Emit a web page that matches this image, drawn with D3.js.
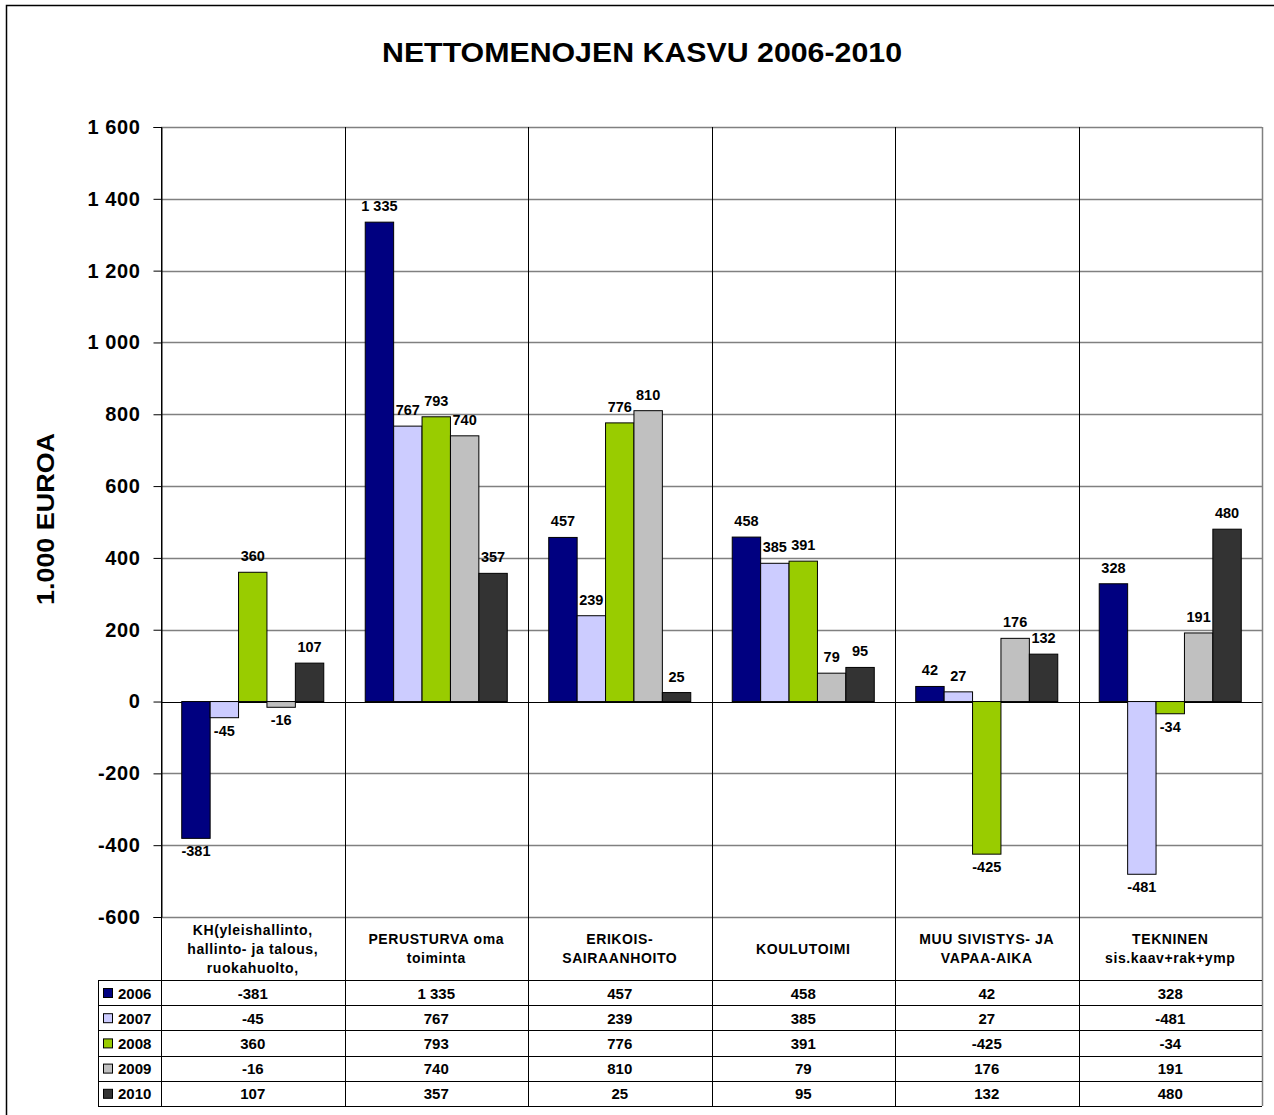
<!DOCTYPE html>
<html>
<head>
<meta charset="utf-8">
<script src="https://cdn.jsdelivr.net/npm/d3@7"></script>
<style>
  body { margin: 0; background: #fff; }
  text { font-family: "Liberation Sans", Arial, sans-serif; font-weight: bold; fill: #000; }
</style>
</head>
<body>
<div id="chart"></div>
<script>
(function(){
  'use strict';

  var categories = [
    ['KH(yleishallinto,', 'hallinto- ja talous,', 'ruokahuolto,'],
    ['PERUSTURVA oma', 'toiminta'],
    ['ERIKOIS-', 'SAIRAANHOITO'],
    ['KOULUTOIMI'],
    ['MUU SIVISTYS- JA', 'VAPAA-AIKA'],
    ['TEKNINEN', 'sis.kaav+rak+ymp']
  ];
  var years = ['2006', '2007', '2008', '2009', '2010'];
  var v2006 = [-381, 1335, 457, 458, 42, 328];
  var v2007 = [-45, 767, 239, 385, 27, -481];
  var v2008 = [360, 793, 776, 391, -425, -34];
  var v2009 = [-16, 740, 810, 79, 176, 191];
  var v2010 = [107, 357, 25, 95, 132, 480];
  var yTicks = [-600, -400, -200, 0, 200, 400, 600, 800, 1000, 1200, 1400, 1600];

  var seriesValues = [v2006, v2007, v2008, v2009, v2010];
  var colors = ['#000080', '#ccccff', '#99cc00', '#c0c0c0', '#333333'];

  var W = 1274, H = 1115;
  var plot = {left: 161, right: 1262, top: 127, bottom: 917};
  var catRowBottom = 980, rowH = 25.2, legendLeft = 98;

  var fmt = d3.formatLocale({decimal: ',', thousands: ' ', grouping: [3], currency: ['', ''], minus: '-'}).format(',d');

  var svg = d3.select('#chart').append('svg')
    .attr('width', W).attr('height', H);

  // outer frame (runs past the right and bottom edges)
  svg.append('rect')
    .attr('x', 6.5).attr('y', 5.5).attr('width', 1300).attr('height', 1200)
    .attr('fill', 'none').attr('stroke', '#000').attr('stroke-width', 1.5);

  var x = d3.scaleBand().domain(d3.range(categories.length))
    .range([plot.left, plot.right]).padding(0);
  var xs = d3.scaleBand().domain(d3.range(years.length))
    .range([0, x.bandwidth()]).paddingInner(0).paddingOuter(0.73);
  var y = d3.scaleLinear().domain([-600, 1600]).range([plot.bottom, plot.top]);

  // title
  svg.append('text')
    .attr('x', 642).attr('y', 62)
    .attr('text-anchor', 'middle')
    .attr('textLength', 520)
    .attr('lengthAdjust', 'spacingAndGlyphs')
    .style('font-size', '27px')
    .text('NETTOMENOJEN KASVU 2006-2010');

  // horizontal gridlines
  svg.append('g').selectAll('line')
    .data(yTicks).enter()
    .append('line')
    .attr('x1', plot.left).attr('x2', plot.right)
    .attr('y1', function(d){ return Math.round(y(d)) + 0.5; })
    .attr('y2', function(d){ return Math.round(y(d)) + 0.5; })
    .attr('stroke', function(d){ return d === 0 ? '#000' : '#808080'; })
    .attr('stroke-width', function(d){ return d === 0 ? 1 : 1.5; });

  // vertical category lines (plot + table)
  svg.append('g').selectAll('line')
    .data(d3.range(categories.length + 1)).enter()
    .append('line')
    .attr('x1', function(i){ return Math.round(plot.left + i * x.step()) + 0.5; })
    .attr('x2', function(i){ return Math.round(plot.left + i * x.step()) + 0.5; })
    .attr('y1', plot.top)
    .attr('y2', catRowBottom + rowH * years.length)
    .attr('stroke', function(i){ return i === categories.length ? '#808080' : '#000'; })
    .attr('stroke-width', function(i){ return i === categories.length ? 1.5 : 1; });

  // y axis
  var yAxis = d3.axisLeft(y).tickValues(yTicks).tickSize(8).tickPadding(13)
    .tickFormat(fmt);
  var axisG = svg.append('g')
    .attr('transform', 'translate(' + (plot.left + 0.5) + ',0)')
    .call(yAxis);
  axisG.select('.domain').attr('stroke', '#000');
  axisG.selectAll('.tick line').attr('stroke', '#000');
  axisG.selectAll('.tick text')
    .style('font-size', '20px')
    .style('letter-spacing', '0.6px')
    .style('font-family', '"Liberation Sans", Arial, sans-serif')
    .style('font-weight', 'bold')
    .attr('fill', '#000');

  svg.append('text')
    .attr('transform', 'translate(54,519) rotate(-90)')
    .attr('text-anchor', 'middle')
    .attr('textLength', 172)
    .attr('lengthAdjust', 'spacingAndGlyphs')
    .style('font-size', '24px')
    .text('1.000 EUROA');

  // bars
  years.forEach(function(yr, s) {
    var g = svg.append('g');
    g.selectAll('rect')
      .data(seriesValues[s]).enter()
      .append('rect')
      .attr('x', function(d, i){ return x(i) + xs(s); })
      .attr('width', xs.bandwidth())
      .attr('y', function(d){ return y(Math.max(0, d)); })
      .attr('height', function(d){ return Math.abs(y(d) - y(0)); })
      .attr('fill', colors[s])
      .attr('stroke', '#000')
      .attr('stroke-width', 1);

    g.selectAll('text')
      .data(seriesValues[s]).enter()
      .append('text')
      .attr('x', function(d, i){ return x(i) + xs(s) + xs.bandwidth() / 2; })
      .attr('y', function(d){ return d >= 0 ? y(d) - 11 : y(d) + 18; })
      .attr('text-anchor', 'middle')
      .style('font-size', '14.5px')
      .text(fmt);
  });

  // data table
  var tbl = svg.append('g');
  var tableBottom = catRowBottom + rowH * years.length;

  tbl.selectAll('g.cat')
    .data(categories).enter()
    .append('g')
    .attr('class', 'cat')
    .each(function(lines, i) {
      var cy = (plot.bottom + catRowBottom) / 2;
      var lh = 19;
      d3.select(this).selectAll('text')
        .data(lines).enter()
        .append('text')
        .attr('x', x(i) + x.bandwidth() / 2)
        .attr('y', function(d, k){ return cy + (k - (lines.length - 1) / 2) * lh + 5; })
        .attr('text-anchor', 'middle')
        .style('font-size', '14px')
        .style('letter-spacing', '0.6px')
        .text(function(d){ return d; });
    });

  // row lines
  tbl.selectAll('line.row')
    .data(d3.range(years.length + 1)).enter()
    .append('line')
    .attr('x1', legendLeft).attr('x2', plot.right)
    .attr('y1', function(r){ return Math.round(catRowBottom + r * rowH) + 0.5; })
    .attr('y2', function(r){ return Math.round(catRowBottom + r * rowH) + 0.5; })
    .attr('stroke', '#000').attr('stroke-width', 1);

  tbl.append('line')
    .attr('x1', legendLeft + 0.5).attr('x2', legendLeft + 0.5)
    .attr('y1', catRowBottom).attr('y2', tableBottom)
    .attr('stroke', '#000');

  years.forEach(function(yr, s) {
    var rowY = catRowBottom + s * rowH;
    tbl.append('rect')
      .attr('x', 103.5).attr('y', rowY + 8.5)
      .attr('width', 9).attr('height', 9)
      .attr('fill', colors[s]).attr('stroke', '#000').attr('stroke-width', 1);
    tbl.append('text')
      .attr('x', 118).attr('y', rowY + 18.5)
      .style('font-size', '15px')
      .text(yr);
    tbl.selectAll('text.v' + s)
      .data(seriesValues[s]).enter()
      .append('text')
      .attr('class', 'v' + s)
      .attr('x', function(d, i){ return x(i) + x.bandwidth() / 2; })
      .attr('y', rowY + 18.5)
      .attr('text-anchor', 'middle')
      .style('font-size', '15px')
      .text(fmt);
  });
})();
</script>
</body>
</html>
